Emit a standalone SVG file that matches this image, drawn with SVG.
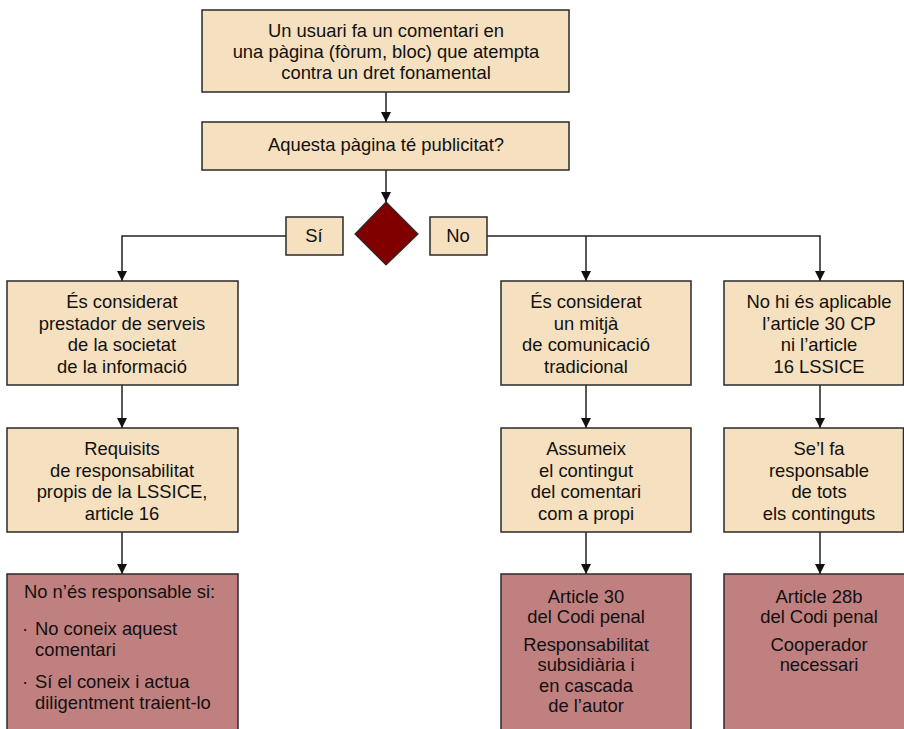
<svg xmlns="http://www.w3.org/2000/svg" width="904" height="729" viewBox="0 0 904 729">
<defs>
<style>
.b{fill:#F5E0BF;stroke:#2a2a2a;stroke-width:1.5}
.r{fill:#C08080;stroke:#2a2a2a;stroke-width:1.5}
.t{font-family:"Liberation Sans",Arial,sans-serif;font-size:18.4px;fill:#111;text-anchor:middle}
.tl{font-family:"Liberation Sans",Arial,sans-serif;font-size:18.4px;fill:#111}
.c{fill:none;stroke:#222;stroke-width:1.5}
</style>
<marker id="ah" viewBox="0 0 10 10" refX="10" refY="5" markerWidth="10" markerHeight="10" markerUnits="userSpaceOnUse" orient="auto">
<path d="M0,0 L10,5 L0,10 Z" fill="#111"/>
</marker>
</defs>
<rect width="904" height="729" fill="#fff"/>
<g id="connectors">
<line class="c" x1="386" y1="92" x2="386" y2="122" marker-end="url(#ah)"/>
<line class="c" x1="386" y1="170" x2="386" y2="202" marker-end="url(#ah)"/>
<polyline class="c" points="286,236 122,236 122,281" marker-end="url(#ah)"/>
<polyline class="c" points="487,236 820,236 820,281" marker-end="url(#ah)"/>
<line class="c" x1="586" y1="236" x2="586" y2="281" marker-end="url(#ah)"/>
<line class="c" x1="122" y1="385" x2="122" y2="428" marker-end="url(#ah)"/>
<line class="c" x1="586" y1="385" x2="586" y2="428" marker-end="url(#ah)"/>
<line class="c" x1="820" y1="385" x2="820" y2="428" marker-end="url(#ah)"/>
<line class="c" x1="122" y1="532" x2="122" y2="574" marker-end="url(#ah)"/>
<line class="c" x1="586" y1="532" x2="586" y2="574" marker-end="url(#ah)"/>
<line class="c" x1="820" y1="532" x2="820" y2="574" marker-end="url(#ah)"/>
</g>
<g id="start">
<rect class="b" x="202" y="10" width="367" height="82"/>
<text class="t" x="386" y="37">Un usuari fa un comentari en</text>
<text class="t" x="386" y="58">una pàgina (fòrum, bloc) que atempta</text>
<text class="t" x="386" y="79">contra un dret fonamental</text>
</g>
<g id="question">
<rect class="b" x="202" y="122" width="367" height="48"/>
<text class="t" x="386" y="151">Aquesta pàgina té publicitat?</text>
</g>
<g id="decision">
<polygon points="386,202 418,234 386,265 355,234" fill="#800000" stroke="#2a2a2a" stroke-width="1.2"/>
</g>
<g id="si">
<rect class="b" x="286" y="217" width="57" height="38"/>
<text class="t" x="314" y="242">Sí</text>
</g>
<g id="no">
<rect class="b" x="430" y="217" width="57" height="38"/>
<text class="t" x="458" y="242">No</text>
</g>
<g id="prestador">
<rect class="b" x="7" y="281" width="231" height="104"/>
<text class="t" x="122" y="308">És considerat</text>
<text class="t" x="122" y="329.5">prestador de serveis</text>
<text class="t" x="122" y="351">de la societat</text>
<text class="t" x="122" y="372.5">de la informació</text>
</g>
<g id="mitja">
<rect class="b" x="501" y="281" width="190" height="104"/>
<text class="t" x="586" y="308">És considerat</text>
<text class="t" x="586" y="329.5">un mitjà</text>
<text class="t" x="586" y="351">de comunicació</text>
<text class="t" x="586" y="372.5">tradicional</text>
</g>
<g id="noaplicable">
<rect class="b" x="724" y="281" width="179.5" height="104"/>
<text class="t" x="819" y="308">No hi és aplicable</text>
<text class="t" x="819" y="329.5">l’article 30 CP</text>
<text class="t" x="819" y="351">ni l’article</text>
<text class="t" x="819" y="372.5">16 LSSICE</text>
</g>
<g id="requisits">
<rect class="b" x="7" y="428" width="231" height="104"/>
<text class="t" x="122" y="455">Requisits</text>
<text class="t" x="122" y="476.5">de responsabilitat</text>
<text class="t" x="122" y="498">propis de la LSSICE,</text>
<text class="t" x="122" y="519.5">article 16</text>
</g>
<g id="assumeix">
<rect class="b" x="501" y="428" width="190" height="104"/>
<text class="t" x="586" y="455">Assumeix</text>
<text class="t" x="586" y="476.5">el contingut</text>
<text class="t" x="586" y="498">del comentari</text>
<text class="t" x="586" y="519.5">com a propi</text>
</g>
<g id="responsable">
<rect class="b" x="724" y="428" width="179.5" height="104"/>
<text class="t" x="819" y="455">Se’l fa</text>
<text class="t" x="819" y="476.5">responsable</text>
<text class="t" x="819" y="498">de tots</text>
<text class="t" x="819" y="519.5">els continguts</text>
</g>
<g id="noresponsable">
<rect class="r" x="7" y="574" width="231" height="170"/>
<text class="tl" x="24" y="598">No n’és responsable si:</text>
<text class="tl" x="22" y="635">·</text>
<text class="tl" x="35" y="635">No coneix aquest</text>
<text class="tl" x="35" y="656">comentari</text>
<text class="tl" x="22" y="688">·</text>
<text class="tl" x="35" y="688">Sí el coneix i actua</text>
<text class="tl" x="35" y="709">diligentment traient-lo</text>
</g>
<g id="article30">
<rect class="r" x="501" y="574" width="190" height="170"/>
<text class="t" x="586" y="603">Article 30</text>
<text class="t" x="586" y="623">del Codi penal</text>
<text class="t" x="586" y="651">Responsabilitat</text>
<text class="t" x="586" y="671">subsidiària i</text>
<text class="t" x="586" y="692">en cascada</text>
<text class="t" x="586" y="712">de l’autor</text>
</g>
<g id="article28b">
<rect class="r" x="724" y="574" width="200" height="170"/>
<text class="t" x="819" y="603">Article 28b</text>
<text class="t" x="819" y="623">del Codi penal</text>
<text class="t" x="819" y="651">Cooperador</text>
<text class="t" x="819" y="671">necessari</text>
</g>
</svg>
